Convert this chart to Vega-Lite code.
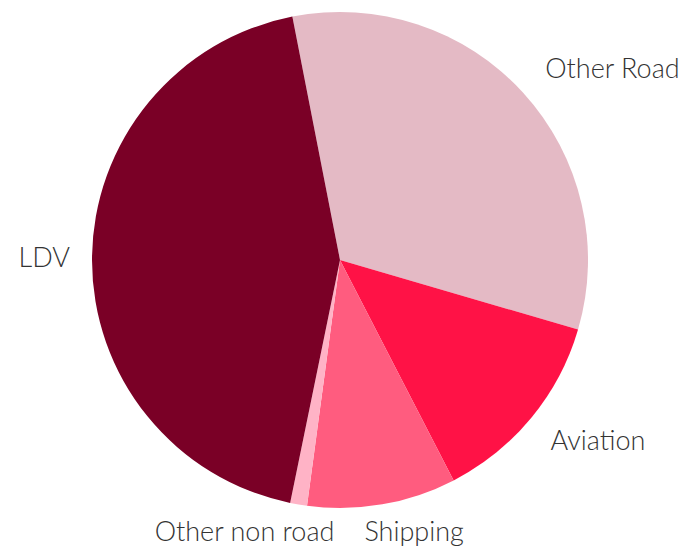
{
  "$schema": "https://vega.github.io/schema/vega-lite/v6.json",
  "autosize": {"type": "none"},
  "width": 680,
  "height": 520,
  "padding": {"left": 0, "top": 0, "right": 4, "bottom": 30},
  "background": "white",
  "config": {"view": {"stroke": null}, "text": {"font": "Lato", "fontWeight": 300, "fontSize": 27, "color": "#333333", "baseline": "middle"}},
  "data": {
    "values": [
      {"sector": "Other Road", "share": 32.6, "order": 1},
      {"sector": "Aviation", "share": 12.9, "order": 2},
      {"sector": "Shipping", "share": 9.7, "order": 3},
      {"sector": "Other non road", "share": 1.1, "order": 4},
      {"sector": "LDV", "share": 43.7, "order": 5}
    ]
  },
  "encoding": {
    "theta": {"field": "share", "type": "quantitative", "stack": true, "scale": {"range": [-0.1934, 6.0898]}},
    "order": {"field": "order", "type": "quantitative"}
  },
  "layer": [
    {
      "mark": {"type": "arc", "outerRadius": 248, "stroke": null},
      "encoding": {
        "color": {
          "field": "sector",
          "type": "nominal",
          "legend": null,
          "scale": {
            "domain": ["Other Road", "Aviation", "Shipping", "Other non road", "LDV"],
            "range": ["#e4bac5", "#ff1246", "#ff5c7f", "#ffb3c6", "#7a0026"]
          }
        }
      }
    },
    {
      "mark": {"type": "text", "radius": 278, "align": "left", "dy": -3},
      "encoding": {"text": {"condition": {"test": "datum.sector === 'Other Road'", "field": "sector"}, "value": ""}}
    },
    {
      "mark": {"type": "text", "radius": 278, "align": "left", "dx": -4, "dy": 5},
      "encoding": {"text": {"condition": {"test": "datum.sector === 'Aviation'", "field": "sector"}, "value": ""}}
    },
    {
      "mark": {"type": "text", "radius": 278, "align": "left", "dx": -23, "dy": -1},
      "encoding": {"text": {"condition": {"test": "datum.sector === 'Shipping'", "field": "sector"}, "value": ""}}
    },
    {
      "mark": {"type": "text", "radius": 273, "align": "right", "dx": 40, "dy": 4},
      "encoding": {"text": {"condition": {"test": "datum.sector === 'Other non road'", "field": "sector"}, "value": ""}}
    },
    {
      "mark": {"type": "text", "radius": 270, "align": "right"},
      "encoding": {"text": {"condition": {"test": "datum.sector === 'LDV'", "field": "sector"}, "value": ""}}
    }
  ]
}
